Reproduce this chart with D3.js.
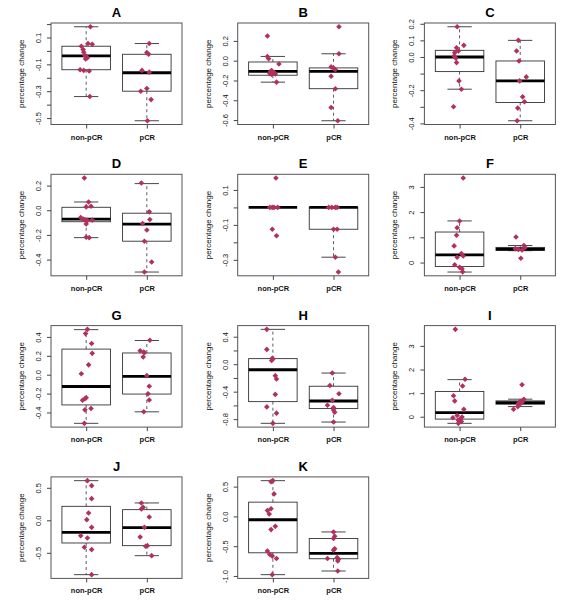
<!DOCTYPE html>
<html>
<head>
<meta charset="utf-8">
<script src="https://cdn.jsdelivr.net/npm/d3@7"></script>
<style>
  body { margin: 0; background: #fff; }
  svg { display: block; font-family: "Liberation Sans", Arial, Helvetica, sans-serif; }
</style>
</head>
<body>
<script>
// ---------------- data ----------------
const titles = ["A","B","C","D","E","F","G","H","I","J","K"];
const groupNames = ["non-pCR", "pCR"];

// box statistics [lower whisker, Q1, median, Q3, upper whisker]
const statsNonPCR = [
  [-0.34, -0.14, -0.0375, 0.035, 0.18],
  [-0.217, -0.147, -0.107, -0.013, 0.043],
  [-0.194, -0.088, 0.0, 0.04, 0.182],
  [-0.222, -0.093, -0.072, 0.024, 0.067],
  [0, 0, 0, 0, 0],
  [-0.377, -0.156, 0.30, 1.21, 1.65],
  [-0.515, -0.32, -0.125, 0.271, 0.477],
  [-0.861, -0.545, -0.081, 0.081, 0.507],
  [-0.28, -0.1, 0.171, 1.071, 1.571],
  [-0.836, -0.349, -0.185, 0.215, 0.61],
  [-0.978, -0.611, -0.056, 0.239, 0.6]
];
const statsPCR = [
  [-0.52, -0.30, -0.1625, -0.025, 0.055],
  [-0.607, -0.283, -0.107, -0.073, 0.07],
  [-0.384, -0.274, -0.144, -0.024, 0.1],
  [-0.501, -0.251, -0.112, -0.024, 0.216],
  [-0.285, -0.125, 0, 0, 0],
  [0.47, 0.48, 0.53, 0.6, 0.675],
  [-0.393, -0.205, -0.017, 0.23, 0.362],
  [-0.842, -0.646, -0.536, -0.321, -0.129],
  [0.43, 0.529, 0.6, 0.671, 0.743],
  [-0.544, -0.39, -0.113, 0.164, 0.267],
  [-0.917, -0.711, -0.622, -0.372, -0.261]
];

// individual observations (percentage change) and their horizontal jitter (x units)
const valuesNonPCR = [
  [0.18, 0.055, 0.05, 0.035, 0.01, -0.01, -0.035, -0.04, -0.05, -0.06, -0.14, -0.145, -0.15, -0.34],
  [0.25, 0.043, 0.02, -0.033, -0.10, -0.11, -0.12, -0.13, -0.135, -0.14, -0.217],
  [0.182, 0.07, 0.056, 0.036, 0.026, 0.006, -0.008, -0.034, -0.144, -0.194, -0.30],
  [0.261, 0.067, 0.032, 0.027, -0.059, -0.072, -0.077, -0.08, -0.082, -0.112, -0.218, -0.222],
  [0.168, 0, 0, 0, 0, -0.125, -0.162],
  [3.35, 1.65, 1.38, 1.08, 0.66, 0.36, 0.26, 0.21, -0.09, -0.19, -0.25, -0.37],
  [0.48, 0.435, 0.33, 0.226, 0.104, 0.01, -0.243, -0.254, -0.27, -0.358, -0.372, -0.515],
  [0.507, 0.215, 0.086, 0.077, 0.053, -0.167, -0.215, -0.44, -0.622, -0.713, -0.861],
  [3.7, 1.586, 1.3, 0.886, 0.671, 0.314, 0.057, -0.014, -0.043, -0.1, -0.15, -0.2, -0.28],
  [0.61, 0.533, 0.333, 0.113, 0.01, -0.108, -0.236, -0.272, -0.415, -0.451, -0.836],
  [0.6, 0.583, 0.378, 0.128, 0.1, 0.039, -0.167, -0.222, -0.583, -0.639, -0.667, -0.706, -0.978]
];
const jitterNonPCR = [
  [0.07, 0.03, 0.10, -0.08, -0.05, -0.04, -0.02, 0, 0.02, -0.01, -0.10, -0.04, 0.05, 0.06],
  [-0.09, -0.09, -0.07, 0.10, -0.02, -0.04, 0.02, -0.05, 0.04, -0.02, 0.06],
  [-0.04, 0.07, -0.05, -0.02, -0.08, -0.09, -0.06, -0.05, -0.01, 0.03, -0.10],
  [-0.03, 0.04, 0.08, 0, -0.09, -0.05, -0.02, 0.10, 0.02, 0, 0, 0.05],
  [0.05, -0.05, -0.01, 0.02, 0.08, -0.01, 0.06],
  [0.06, 0, -0.04, -0.05, -0.09, 0.03, 0.06, -0.04, -0.08, 0, 0.04, 0.05],
  [0.02, -0.01, 0.09, 0.10, 0.04, -0.08, 0, -0.02, -0.06, 0.08, -0.02, -0.03],
  [-0.10, -0.10, -0.01, 0, -0.02, 0.04, 0.06, 0.04, -0.10, 0.06, 0],
  [-0.07, 0.09, 0.05, -0.10, -0.08, 0.07, -0.04, 0.04, -0.11, 0.01, -0.02, 0.03, -0.02],
  [0.02, 0.09, 0.09, 0.04, 0.01, 0.09, -0.09, 0.02, -0.03, 0.09, 0.09],
  [0, -0.03, 0.02, -0.03, -0.09, -0.06, 0.04, -0.03, -0.09, -0.05, -0.01, 0.06, -0.01]
];
const valuesPCR = [
  [0.055, -0.0125, -0.025, -0.145, -0.158, -0.28, -0.30, -0.3625, -0.52],
  [0.343, 0.07, -0.063, -0.075, -0.09, -0.157, -0.283, -0.473, -0.607],
  [0.1, 0.036, -0.024, -0.12, -0.144, -0.24, -0.27, -0.308, -0.384],
  [0.221, -0.013, -0.075, -0.107, -0.16, -0.251, -0.419, -0.501],
  [0, 0, 0, 0, -0.125, -0.125, -0.285, -0.37],
  [1.01, 0.675, 0.6, 0.55, 0.52, 0.5, 0.17],
  [0.365, 0.254, 0.24, 0.233, 0.188, -0.01, -0.122, -0.202, -0.268, -0.393],
  [-0.129, -0.311, -0.431, -0.526, -0.598, -0.632, -0.665, -0.70, -0.842],
  [1.357, 0.743, 0.68, 0.64, 0.6, 0.56, 0.52, 0.43, 0.314],
  [0.267, 0.2, 0.174, 0.051, -0.108, -0.256, -0.39, -0.4, -0.544],
  [-0.261, -0.333, -0.372, -0.544, -0.567, -0.706, -0.69, -0.72, -0.75, -0.917]
];
const jitterPCR = [
  [0.04, 0, 0.03, -0.08, 0.04, 0, -0.10, 0.07, 0.01],
  [0.09, 0.09, -0.04, 0, 0.03, -0.04, 0.03, -0.04, 0.07],
  [-0.03, -0.06, -0.02, 0.10, -0.01, 0.04, 0.07, -0.04, -0.05],
  [-0.09, 0.04, 0.05, -0.07, 0, -0.04, 0.08, -0.04],
  [-0.08, -0.03, 0.03, 0.06, 0, 0.06, 0.03, 0.08],
  [-0.07, 0.06, 0.08, -0.08, -0.03, 0.03, 0.01],
  [0.05, -0.11, -0.05, -0.04, -0.06, 0, 0.04, 0.02, 0.04, -0.05],
  [-0.02, -0.06, 0.09, -0.02, -0.10, 0, 0, 0.02, 0],
  [0.03, 0.06, 0.04, 0, 0.03, -0.03, -0.01, -0.04, -0.11],
  [-0.09, -0.06, -0.09, 0.04, -0.04, -0.11, 0.01, -0.02, 0.08],
  [0, 0.02, 0, 0.02, 0, -0.10, 0.06, 0.08, 0.07, 0.07]
];

// y-axis ticks and their labels ("" = tick without label)
const yTicks = [
  [0.2, 0.1, 0, -0.1, -0.2, -0.3, -0.4, -0.5],
  [0.2, 0, -0.2, -0.4, -0.6],
  [0.2, 0.1, 0, -0.1, -0.2, -0.3, -0.4],
  [0.2, 0, -0.2, -0.4],
  [0.1, 0, -0.1, -0.2, -0.3],
  [0, 1, 2, 3],
  [0.4, 0.2, 0, -0.2, -0.4],
  [0.4, 0.2, 0, -0.2, -0.4, -0.6, -0.8],
  [0, 1, 2, 3],
  [0.5, 0, -0.5],
  [0.5, 0, -0.5, -1]
];
const yTickLabels = [
  ["", "0.1", "", "-0.1", "", "-0.3", "", "-0.5"],
  ["0.2", "0.0", "-0.2", "-0.4", "-0.6"],
  ["0.2", "0.1", "0.0", "", "-0.2", "", "-0.4"],
  ["0.2", "0.0", "-0.2", "-0.4"],
  ["0.1", "", "-0.1", "", "-0.3"],
  ["0", "1", "2", "3"],
  ["0.4", "0.2", "0.0", "-0.2", "-0.4"],
  ["0.4", "", "0.0", "", "-0.4", "", "-0.8"],
  ["0", "1", "2", "3"],
  ["0.5", "0.0", "-0.5"],
  ["0.5", "0.0", "-0.5", "-1.0"]
];
const yLabel = "percentage change";

// ---------------- drawing ----------------
const W = 567, H = 600;
const svg = d3.select("body").append("svg").attr("width", W).attr("height", H);

const pw = 131, ph = 101.5;
const colX = c => 51 + c * 186.7;
const rowY = r => 23 + r * 151.3;
const pointColor = "#b03060";

function diamond(cx, cy, r) {
  return `M${cx},${cy - r}L${cx + r},${cy}L${cx},${cy + r}L${cx - r},${cy}Z`;
}

titles.forEach((t, i) => {
  const r = Math.floor(i / 3), c = i % 3;
  const g = svg.append("g").attr("transform", `translate(${colX(c)},${rowY(r)})`);

  const stats = [statsNonPCR[i], statsPCR[i]];
  const vals = [valuesNonPCR[i], valuesPCR[i]];
  const jit = [jitterNonPCR[i], jitterPCR[i]];

  const x = d3.scaleLinear().domain([0.42, 2.58]).range([0, pw]);
  const all = stats.flat().concat(vals.flat());
  const ext = d3.extent(all);
  const pad = (ext[1] - ext[0]) * 0.04;
  const y = d3.scaleLinear().domain([ext[0] - pad, ext[1] + pad]).range([ph, 0]);

  // boxes
  stats.forEach((s, gi) => {
    const pos = gi + 1;
    const cx = x(pos);
    // whiskers (dashed)
    g.append("line").attr("x1", cx).attr("x2", cx).attr("y1", y(s[3])).attr("y2", y(s[4]))
      .attr("stroke", "#333").attr("stroke-width", 0.8).attr("stroke-dasharray", "3,3");
    g.append("line").attr("x1", cx).attr("x2", cx).attr("y1", y(s[1])).attr("y2", y(s[0]))
      .attr("stroke", "#333").attr("stroke-width", 0.8).attr("stroke-dasharray", "3,3");
    // staples
    [s[0], s[4]].forEach(v => {
      g.append("line").attr("x1", x(pos - 0.2)).attr("x2", x(pos + 0.2))
        .attr("y1", y(v)).attr("y2", y(v)).attr("stroke", "#333").attr("stroke-width", 0.9);
    });
    // box
    g.append("rect").attr("x", x(pos - 0.4)).attr("y", y(s[3]))
      .attr("width", x(pos + 0.4) - x(pos - 0.4)).attr("height", Math.max(0, y(s[1]) - y(s[3])))
      .attr("fill", "none").attr("stroke", "#333").attr("stroke-width", 0.9);
    // median
    g.append("line").attr("x1", x(pos - 0.4)).attr("x2", x(pos + 0.4))
      .attr("y1", y(s[2])).attr("y2", y(s[2])).attr("stroke", "#000").attr("stroke-width", 2.8);
  });

  // jittered points
  vals.forEach((vs, gi) => {
    g.selectAll(null).data(vs.map((v, k) => [v, jit[gi][k]])).enter().append("path")
      .attr("d", d => diamond(x(gi + 1 + d[1]), y(d[0]), 2.8))
      .attr("fill", pointColor);
  });

  // frame
  g.append("rect").attr("x", 0).attr("y", 0).attr("width", pw).attr("height", ph)
    .attr("fill", "none").attr("stroke", "#555").attr("stroke-width", 1);

  // y axis
  const labels = yTickLabels[i];
  const ticks = yTicks[i];
  const ya = g.append("g").call(
    d3.axisLeft(y).tickValues(ticks).tickSize(4)
      .tickFormat((d, k) => labels[k])
  );
  ya.select(".domain").remove();
  ya.selectAll(".tick line").attr("stroke", "#444");
  ya.selectAll(".tick text")
    .attr("transform", "rotate(-90)")
    .attr("x", 0).attr("y", -10).attr("dy", 0)
    .attr("text-anchor", "middle")
    .attr("font-size", 7.5).attr("fill", "#111")
    .attr("font-family", "'Liberation Sans', Arial, sans-serif");

  // x axis
  const xa = g.append("g").attr("transform", `translate(0,${ph})`).call(
    d3.axisBottom(x).tickValues([1, 2]).tickSize(4).tickFormat((d, k) => groupNames[k])
  );
  xa.select(".domain").remove();
  xa.selectAll(".tick line").attr("stroke", "#444");
  xa.selectAll(".tick text")
    .attr("y", 15).attr("dy", 0)
    .attr("font-size", 7.5).attr("font-weight", "bold").attr("fill", "#111")
    .attr("font-family", "'Liberation Sans', Arial, sans-serif");

  // y label
  g.append("text")
    .attr("transform", `translate(-27,${ph / 2}) rotate(-90)`)
    .attr("text-anchor", "middle")
    .attr("font-size", 8).attr("fill", "#111")
    .text(yLabel);

  // title
  g.append("text").attr("x", pw / 2).attr("y", -6)
    .attr("text-anchor", "middle").attr("font-size", 13).attr("font-weight", "bold")
    .attr("fill", "#000").text(t);
});
</script>
</body>
</html>
